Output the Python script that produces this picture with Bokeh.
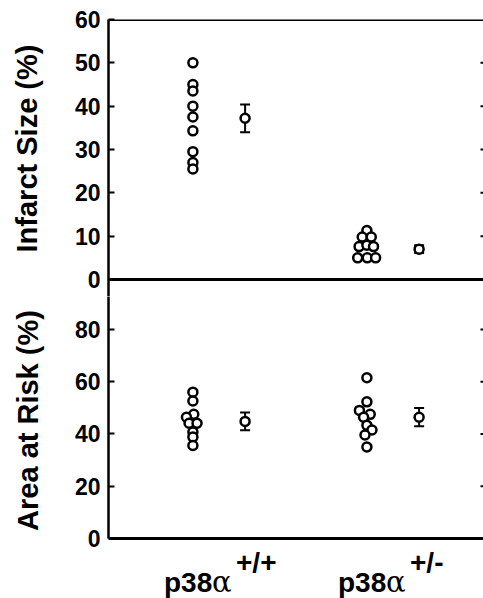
import math
from bokeh.plotting import figure
from bokeh.layouts import column, row
from bokeh.models import (ColumnDataSource, FixedTicker, Range1d,
                          Span, Whisker, TeeHead, Label)
from bokeh.embed import file_html
from bokeh.resources import INLINE

# ---------------- data ----------------
group_pos = [1, 2]
group_base = ["p38", "p38"]
group_greek = ["α", "α"]
group_sup = ["+/+", "+/-"]

infarct_title = "Infarct Size (%)"
aar_title = "Area at Risk (%)"

infarct_wt = [50, 45, 43.5, 40, 37.5, 34.3, 29.5, 27, 25.5]
infarct_wt_jitter = [0, 0, 0, 0, 0, 0, 0, 0, 0]
infarct_het = [11.3, 9.8, 9.8, 7.6, 7.9, 7.6, 5.0, 5.0, 5.0]
infarct_het_jitter = [0, -0.027, 0.025, -0.045, 0, 0.038, -0.053, 0.002, 0.05]

aar_wt = [56, 52.6, 47.5, 46.4, 44.1, 44.1, 40.7, 38.8, 35.6]
aar_wt_jitter = [0, 0, 0.005, -0.037, -0.022, 0.024, 0, 0, 0]
aar_het = [61.5, 52.3, 49, 47.5, 46.4, 43.3, 41.5, 39.6, 35]
aar_het_jitter = [0, 0, -0.043, 0.019, -0.019, 0, 0.029, -0.011, 0]

infarct_mean = [37.2, 7.0]
infarct_se = [3.2, 0.9]
aar_mean = [44.8, 46.4]
aar_se = [3.4, 3.5]

infarct_ticks = [0, 10, 20, 30, 40, 50, 60]
aar_ticks = [0, 20, 40, 60, 80]

FONT = "Liberation Sans"
DOT_OFF = -0.15
MEAN_OFF = 0.15
LEFT_W = 50
MAIN_W = 433
AAR_TOP = 92.6


def style_left(ax, ticks):
    ax.ticker = FixedTicker(ticks=ticks)
    ax.axis_line_width = 2.5
    ax.axis_line_color = "black"
    ax.major_tick_in = 6
    ax.major_tick_out = 0
    ax.major_tick_line_width = 2
    ax.minor_tick_line_color = None
    ax.major_label_standoff = 8
    ax.major_label_text_font = FONT
    ax.major_label_text_font_style = "bold"
    ax.major_label_text_font_size = "23px"
    ax.major_label_text_color = "black"


def right_ticks(p, ticks):
    # short inward tick marks on the right frame edge
    p.scatter(x=[p.x_range.end] * len(ticks), y=ticks, marker="dash", size=6,
              line_width=2, line_color="black")


def add_points(p, wt, wt_j, het, het_j, means, ses):
    xs, ys = [], []
    for g, vals, jit in ((group_pos[0], wt, wt_j), (group_pos[1], het, het_j)):
        for v, j in zip(vals, jit):
            xs.append(g + DOT_OFF + j)
            ys.append(v)
    src = ColumnDataSource(dict(x=xs, y=ys))
    mx = [g + MEAN_OFF for g in group_pos]
    msrc = ColumnDataSource(dict(x=mx, y=means,
                                 upper=[m + s for m, s in zip(means, ses)],
                                 lower=[m - s for m, s in zip(means, ses)]))
    w = Whisker(source=msrc, base="x", upper="upper", lower="lower",
                line_width=2, line_color="black", level="underlay",
                upper_head=TeeHead(size=10, line_width=2, line_color="black"),
                lower_head=TeeHead(size=10, line_width=2, line_color="black"))
    p.add_layout(w)
    p.scatter("x", "y", source=src, marker="circle", size=9,
              fill_color="white", line_color="black", line_width=2.5)
    p.scatter("x", "y", source=msrc, marker="circle", size=9,
              fill_color="white", line_color="black", line_width=2.5)


def bare(p):
    p.outline_line_color = None
    p.grid.visible = False
    p.background_fill_color = None
    p.border_fill_color = None


x_range = Range1d(0.365, 2.52)

# ---------------- left strip with axis titles ----------------
pl = figure(width=LEFT_W, height=598, x_range=(0, 1), y_range=(0, 1),
            output_backend="svg", toolbar_location=None,
            x_axis_location=None, y_axis_location=None,
            min_border_left=0, min_border_right=0, min_border_top=0,
            min_border_bottom=0)
bare(pl)
pl.add_layout(Label(x=26, y=450, x_units="screen", y_units="screen",
                    angle=math.pi / 2, text=infarct_title, text_align="center",
                    text_baseline="alphabetic", text_font=FONT,
                    text_font_style="bold", text_font_size="29px", text_color="black"))
pl.add_layout(Label(x=27, y=178, x_units="screen", y_units="screen",
                    angle=math.pi / 2, text=aar_title, text_align="center",
                    text_baseline="alphabetic", text_font=FONT,
                    text_font_style="bold", text_font_size="29px", text_color="black"))

# ---------------- top panel ----------------
p1 = figure(width=MAIN_W, height=296, x_range=x_range, y_range=Range1d(-3.92, 60),
            output_backend="svg", toolbar_location=None, x_axis_location=None,
            min_border_left=58, min_border_right=0, min_border_top=19,
            min_border_bottom=0)
bare(p1)
style_left(p1.yaxis[0], infarct_ticks)
p1.add_layout(Span(location=60, dimension="width", line_color="black", line_width=3))
p1.add_layout(Span(location=0, dimension="width", line_color="black", line_width=3))
right_ticks(p1, infarct_ticks[1:-1])
add_points(p1, infarct_wt, infarct_wt_jitter, infarct_het, infarct_het_jitter,
           infarct_mean, infarct_se)

# ---------------- bottom panel (frame also holds the category labels) ----------------
p2 = figure(width=MAIN_W, height=302, x_range=x_range, y_range=Range1d(-22.97, AAR_TOP),
            output_backend="svg", toolbar_location=None, x_axis_location=None,
            min_border_left=58, min_border_right=0, min_border_top=0,
            min_border_bottom=0)
bare(p2)
style_left(p2.yaxis[0], aar_ticks)
p2.yaxis[0].bounds = (0, AAR_TOP)
p2.add_layout(Span(location=0, dimension="width", line_color="black", line_width=3))
right_ticks(p2, aar_ticks[1:])
add_points(p2, aar_wt, aar_wt_jitter, aar_het, aar_het_jitter, aar_mean, aar_se)

for g, base, greek, sup in zip(group_pos, group_base, group_greek, group_sup):
    p2.add_layout(Label(x=g, y=0, x_offset=-55, y_offset=-44,
                        text=base, text_align="left", text_baseline="alphabetic",
                        text_font=FONT, text_font_style="bold",
                        text_font_size="28px", text_color="black"))
    p2.add_layout(Label(x=g, y=0, x_offset=-7, y_offset=-44,
                        text=greek, text_align="left", text_baseline="alphabetic",
                        text_font="DejaVu Serif", text_font_style="normal",
                        text_font_size="29px", text_color="black"))
    p2.add_layout(Label(x=g, y=0, x_offset=17, y_offset=-24,
                        text=sup, text_align="left", text_baseline="alphabetic",
                        text_font=FONT, text_font_style="bold",
                        text_font_size="28px", text_color="black"))

layout = row(pl, column(p1, p2, spacing=0), spacing=0)
open("out.html", "w").write(file_html(layout, INLINE))
